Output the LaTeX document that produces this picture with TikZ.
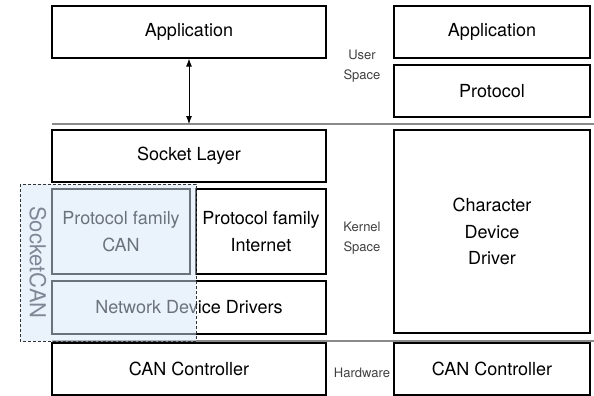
\documentclass[tikz,border=0pt]{standalone}
\usepackage{fontspec}
\setmainfont{TeX Gyre Heros}
\usepackage{tikz}
\usetikzlibrary{calc,arrows.meta}
\definecolor{canblue}{HTML}{D5E5F7}
\definecolor{cangray}{HTML}{7F8896}
\definecolor{sepgray}{HTML}{8A8A8A}

\begin{document}
\begin{tikzpicture}[x=1pt,y=-1pt,>={Latex[length=8pt,width=6pt]},
    layer/.style={draw,line width=1.3pt,inner sep=0pt,align=center,
      font=\fontsize{18}{26.5}\selectfont},
    spacelabel/.style={text=black!75,align=center,
      font=\fontsize{13}{20}\selectfont}]
          \useasboundingbox (0,0) rectangle (594,396);

          % Socket side
          \node (app1) at (189,32) [layer,minimum width=274pt,minimum height=52pt] {Application};
          \node (sock) at (189,156) [layer,minimum width=274pt,minimum height=52pt] {Socket Layer};
          \node (pfcan) at (121,231.5) [layer,minimum width=138pt,minimum height=85pt] {Protocol family\\CAN};
          \node (pfinet) at (261,231.5) [layer,minimum width=130pt,minimum height=85pt] {Protocol family\\Internet};
          \node (netdrv) at (189,307.5) [layer,minimum width=274pt,minimum height=53pt] {Network Device Drivers};
          \node (ctrl1) at (189,369) [layer,minimum width=274pt,minimum height=52pt] {CAN Controller};

          % Character device side
          \node (app2) at (492,32) [layer,minimum width=196pt,minimum height=52pt] {Application};
          \node (proto) at (492,91) [layer,minimum width=196pt,minimum height=52pt] {Protocol};
          \node (chrdev) at (492,231.5) [layer,minimum width=196pt,minimum height=203pt] {Character\\Device\\Driver};
          \node (ctrl2) at (492,369) [layer,minimum width=196pt,minimum height=52pt] {CAN Controller};

          % space borders
          \coordinate (u0) at (52,124);
          \coordinate (u1) at (594,124);
          \coordinate (h0) at (52,341);
          \coordinate (h1) at (594,341);
          \draw[sepgray,line width=1.2pt] (u0) -- (u1);
          \draw[sepgray,line width=1.2pt] (h0) -- (h1);

          \node (user) at (362,66) [spacelabel] {User\\Space};
          \node (kernel) at (362,238.5) [spacelabel] {Kernel\\Space};
          \node (hw) at (362,373) [spacelabel] {Hardware};

          \draw[<->,line width=0.8pt] (app1.south) -- (app1.south |- u0);

          % SocketCAN
          \draw[black!80,densely dashed,line width=0.6pt,fill=canblue,fill opacity=0.5]
            (20,184) rectangle (196,341);
          \node (scan) at (38,262.5) [rotate=-90,text=cangray,font=\fontsize{22}{22}\selectfont] {SocketCAN};

        \end{tikzpicture}
\end{document}
